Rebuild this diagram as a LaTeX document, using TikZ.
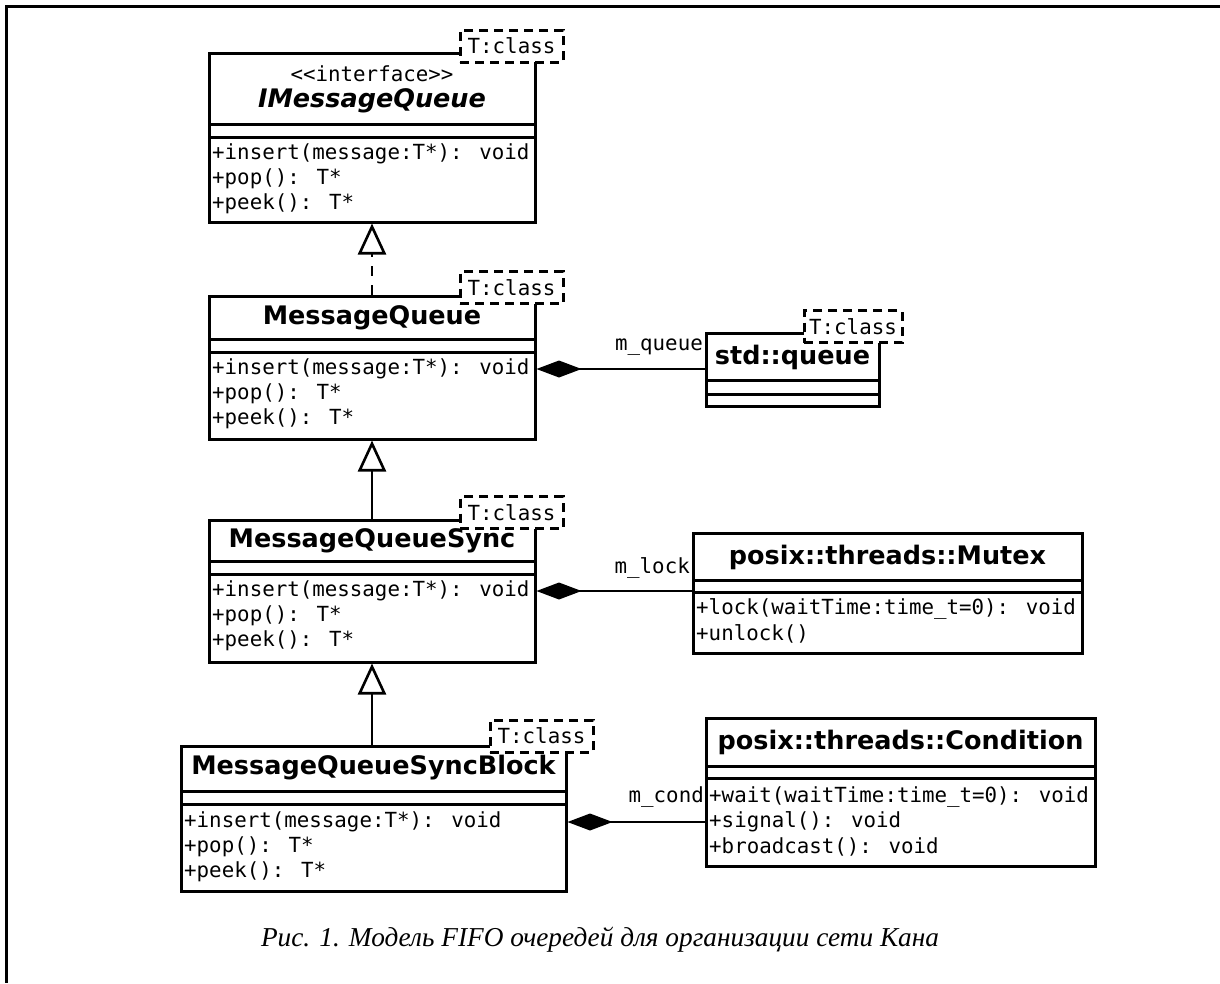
\documentclass[tikz,border=0pt]{standalone}
\usepackage{fontspec}
\setmainfont{Liberation Serif}
\newfontfamily\umlsans{DejaVu Sans}
\newfontfamily\umlmono{DejaVu Sans Mono}
\usetikzlibrary{arrows.meta,fit}
\newcommand{\titlefont}{\umlsans\bfseries\fontsize{25.5}{30}\selectfont}
\newcommand{\opfont}{\umlmono\fontsize{20.8}{25}\selectfont}
% class frame: name, left, top, right, bottom, separators
\newcommand{\classbox}[7]{%
  \node[classframe, fit={(#2,#3) (#4,#5)}] (#1) {};
  \draw[classline] (#2,#6) -- (#4,#6) (#2,#7) -- (#4,#7);
}
% operations, one per line
\newcommand{\classops}[4]{%
  \foreach \optext [count=\i] in {#4}
    \node[opline] (#1-op-\i) at (#2,#3+25*\i-25) {\optext};
}

\begin{document}
\begin{tikzpicture}[x=1pt,y=-1pt]
  \tikzset{
    classframe/.style={draw, line width=3pt, inner sep=0pt},
    classline/.style={line width=3pt},
    classtitle/.style={font=\titlefont, inner sep=0pt},
    opline/.style={font=\opfont, anchor=west, inner sep=0pt},
    tparam/.style={draw, dash pattern=on 9pt off 6pt, fill=white, line width=3pt,
      minimum width=103pt, minimum height=32pt, inner sep=0pt, font=\opfont},
    realize/.style={dash pattern=on 10pt off 9pt, line width=2.6pt,
      -{Triangle[open, length=31pt, width=28pt]}},
    inherit/.style={line width=2.6pt, -{Triangle[open, length=31pt, width=28pt]}},
    compose/.style={line width=2.6pt, -{Diamond[length=45pt, width=17pt]}}
  }
  \useasboundingbox (0,0) rectangle (1220,983);
  \draw[line width=3pt] (1220,6.5) -- (6.5,6.5) -- (6.5,983);

  % interface
  \classbox{imq}{209}{53}{535}{222}{124}{137}
  \node[font=\opfont, inner sep=0pt] (imq-stereo) at (372,74) {<{}<interface>{}>};
  \node[classtitle] (imq-name) at (372,101) {\itshape IMessageQueue};
  \classops{imq}{212}{154}{+insert(message:T*): void,+pop(): T*,+peek(): T*}
  \node[tparam] (imq-t) at (511.5,46) {T:class};

  % queues
  \classbox{mq}{209}{296}{535}{439}{339}{352}
  \node[classtitle] (mq-name) at (372,318) {MessageQueue};
  \classops{mq}{212}{369}{+insert(message:T*): void,+pop(): T*,+peek(): T*}
  \node[tparam] (mq-t) at (511.5,287.5) {T:class};

  \classbox{mqs}{209}{520}{535}{662}{561}{574}
  \node[classtitle] (mqs-name) at (372,541) {MessageQueueSync};
  \classops{mqs}{212}{591}{+insert(message:T*): void,+pop(): T*,+peek(): T*}
  \node[tparam] (mqs-t) at (511.5,512.5) {T:class};

  \classbox{mqsb}{181}{746}{566}{891}{791}{804}
  \node[classtitle] (mqsb-name) at (373.5,768) {MessageQueueSyncBlock};
  \classops{mqsb}{184}{822}{+insert(message:T*): void,+pop(): T*,+peek(): T*}
  \node[tparam] (mqsb-t) at (541.5,736) {T:class};

  % members
  \classbox{queue}{706}{333}{879}{406}{380}{394}
  \node[classtitle] (queue-name) at (792.5,357) {std::queue};
  \node[tparam, minimum width=98pt] (queue-t) at (853,326.5) {T:class};

  \classbox{mutex}{693}{533}{1082}{653}{580}{592}
  \node[classtitle] (mutex-name) at (887.5,557) {posix::threads::Mutex};
  \classops{mutex}{696}{609}{+lock(waitTime:time\_t=0): void,+unlock()}

  \classbox{cond}{706}{718}{1095}{866}{766}{778}
  \node[classtitle] (cond-name) at (900.5,742) {posix::threads::Condition};
  \classops{cond}{709}{797}{+wait(waitTime:time\_t=0): void,+signal(): void,+broadcast(): void}

  % relations
  \draw[realize] (mq.north) -- (imq.south);
  \draw[inherit] (mqs.north) -- (mq.south);
  \draw[inherit] (mqsb.north -| mqs.south) -- (mqs.south);
  \draw[compose] (queue.west |- mq-op-1.west) -- (mq.east |- mq-op-1.west);
  \draw[compose] (mutex.west |- mqs-op-1.west) -- (mqs.east |- mqs-op-1.west);
  \draw[compose] (cond.west |- mqsb-op-1.west) -- (mqsb.east |- mqsb-op-1.west);
  \node[opline, anchor=east] (mq-role) at (703,347) {m\_queue};
  \node[opline, anchor=east] (mqs-role) at (690,568) {m\_lock};
  \node[opline, anchor=east] (mqsb-role) at (704,797) {m\_cond};

  \node[font=\fontsize{27.3}{32}\selectfont\itshape, inner sep=0pt] (caption) at (600,940)
    {Рис. 1. Модель FIFO очередей для организации сети Кана};
\end{tikzpicture}
\end{document}
